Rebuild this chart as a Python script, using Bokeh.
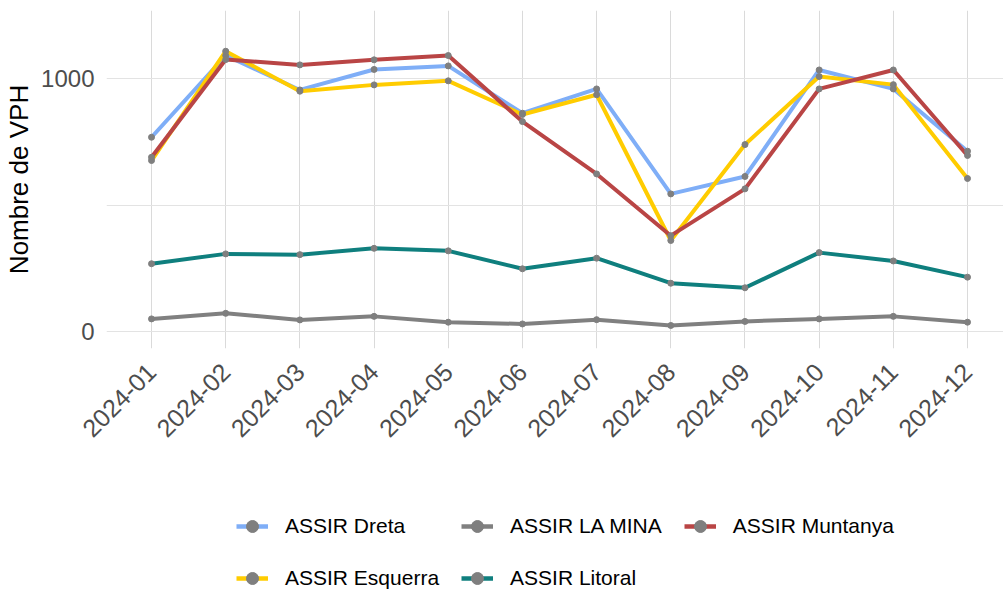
import math
from bokeh.plotting import figure
from bokeh.layouts import column
from bokeh.models import Range1d, FixedTicker, Legend, LegendItem
from bokeh.embed import file_html
from bokeh.resources import INLINE

months = ["2024-01", "2024-02", "2024-03", "2024-04", "2024-05", "2024-06",
          "2024-07", "2024-08", "2024-09", "2024-10", "2024-11", "2024-12"]
dreta    = [768, 1091, 955, 1036, 1050, 863, 959, 544, 613, 1034, 959, 713]
esquerra = [676, 1108, 950, 975, 991, 858, 936, 360, 739, 1008, 976, 605]
la_mina  = [50, 72, 46, 60, 37, 30, 47, 24, 40, 50, 60, 37]
litoral  = [268, 307, 304, 329, 319, 248, 290, 191, 173, 312, 279, 215]
muntanya = [689, 1075, 1054, 1074, 1091, 830, 623, 379, 564, 959, 1034, 696]

series_names = ["ASSIR Dreta", "ASSIR Esquerra", "ASSIR LA MINA", "ASSIR Litoral", "ASSIR Muntanya"]
series_vals = [dreta, esquerra, la_mina, litoral, muntanya]
colors = ["#7FAEF7", "#FFCC00", "#808080", "#0F7F7E", "#B94545"]
legend_order = ["ASSIR Dreta", "ASSIR LA MINA", "ASSIR Muntanya", "ASSIR Esquerra", "ASSIR Litoral"]

FONT = "Liberation Sans"
xs = list(range(1, len(months) + 1))

p = figure(width=1003, height=448, output_backend="svg", toolbar_location=None,
           x_range=Range1d(1 - 0.607, 12 + 0.485), y_range=Range1d(-67, 1269),
           min_border_left=106, min_border_right=0, min_border_top=10, min_border_bottom=100)
p.outline_line_color = None
p.background_fill_color = "white"
p.border_fill_color = "white"

p.xaxis.ticker = FixedTicker(ticks=xs)
p.xaxis.major_label_overrides = {i: m for i, m in zip(xs, months)}
p.xaxis.major_label_orientation = math.pi / 4
p.yaxis.ticker = FixedTicker(ticks=[0, 1000], minor_ticks=[500])
for ax in (p.xaxis[0], p.yaxis[0]):
    ax.axis_line_color = None
    ax.major_tick_line_color = None
    ax.minor_tick_line_color = None
    ax.major_label_text_font = FONT
    ax.major_label_text_color = "#4D4D4D"
p.xaxis.major_label_standoff = 13
p.yaxis.major_label_standoff = 6
p.xaxis.major_label_text_font_size = "25px"
p.yaxis.major_label_text_font_size = "24px"
p.yaxis.axis_label = "Nombre de VPH"
p.yaxis.axis_label_text_font = FONT
p.yaxis.axis_label_text_font_size = "26px"
p.yaxis.axis_label_text_font_style = "normal"
p.yaxis.axis_label_text_color = "black"
p.yaxis.axis_label_standoff = 4

p.xgrid.grid_line_color = "#DADADA"
p.ygrid.grid_line_color = "#E3E3E3"
p.ygrid.minor_grid_line_color = "#E3E3E3"

for vals, col in zip(series_vals, colors):
    p.line(xs, vals, line_color=col, line_width=4)
for vals in series_vals:
    p.scatter(xs, vals, size=6, fill_color="#7F7F7F", line_color="#7F7F7F")

# legend figure below the plot (its renderers hold the same data, out of its visible range)
p2 = figure(width=1003, height=142, output_backend="svg", toolbar_location=None,
            x_range=Range1d(-2, -1), y_range=Range1d(-2, -1),
            x_axis_type=None, y_axis_type=None,
            min_border_left=0, min_border_right=0, min_border_top=0, min_border_bottom=0)
p2.outline_line_color = None
p2.xgrid.visible = False
p2.ygrid.visible = False
p2.border_fill_color = "white"

items = {}
for name, vals, col in zip(series_names, series_vals, colors):
    l = p2.line(xs, vals, line_color=col, line_width=4.5)
    s = p2.scatter(xs, vals, size=4, fill_color="#7F7F7F", line_color="#7F7F7F")
    items[name] = LegendItem(label=name, renderers=[l, s])

legend = Legend(items=[items[n] for n in legend_order], orientation="horizontal", ncols=3,
                location=(130, -3), label_text_font=FONT, label_text_font_size="21px",
                label_text_color="black", glyph_width=32, glyph_height=30, label_height=30,
                label_standoff=17, spacing=22, padding=0, margin=0,
                border_line_color=None, background_fill_alpha=0)
p2.add_layout(legend, "center")

layout = column(p, p2, spacing=0)
open("out.html", "w").write(file_html(layout, INLINE))
